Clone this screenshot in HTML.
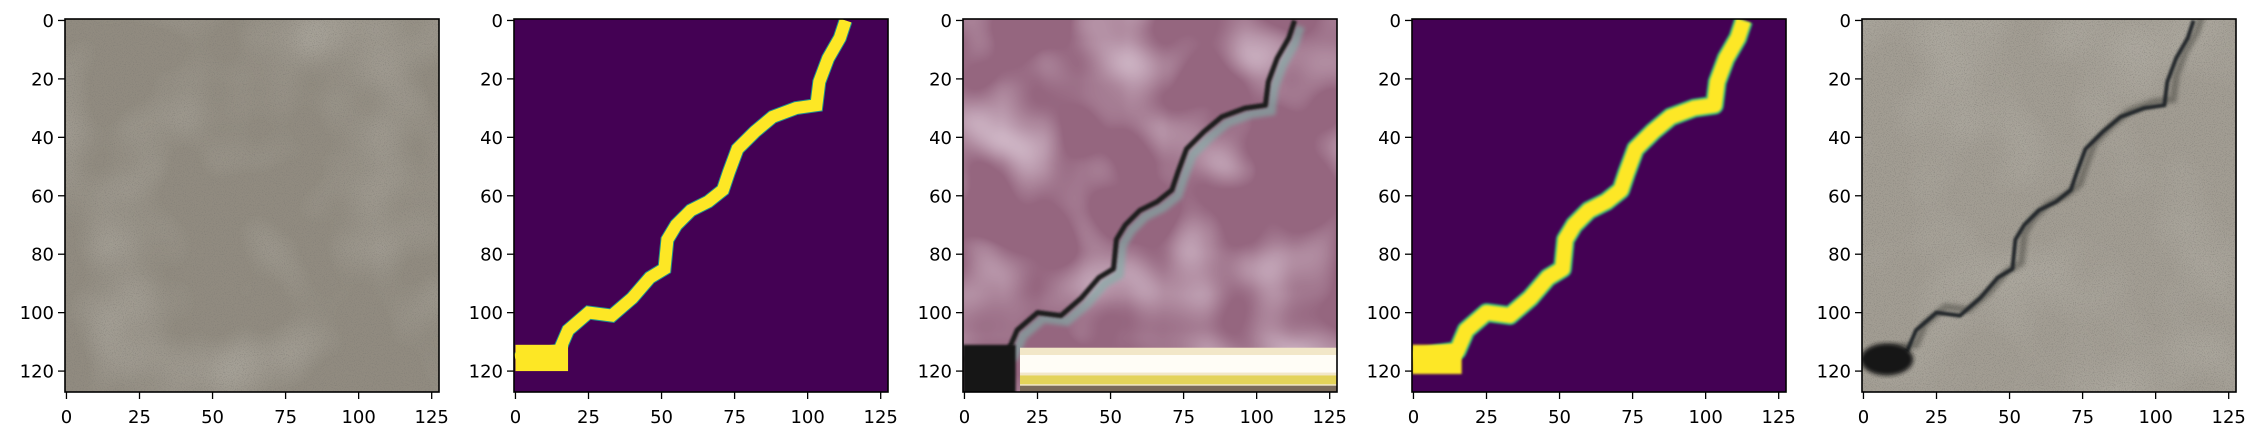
<!DOCTYPE html>
<html><head><meta charset="utf-8"><style>
html,body{margin:0;padding:0;background:#fff;width:2259px;height:440px;overflow:hidden}
svg{display:block}
text{font-family:"DejaVu Sans","Liberation Sans",sans-serif;font-size:18px;fill:#000}
</style></head><body>
<svg id="fig" width="2259" height="440" viewBox="0 0 2259 440" xmlns="http://www.w3.org/2000/svg">
<defs>
<filter id="noiseGrey" x="0" y="0" width="100%" height="100%">
<feTurbulence type="fractalNoise" baseFrequency="0.9" numOctaves="2" seed="3" result="n"/>
<feColorMatrix type="matrix" values="0 0 0 0 0.2  0 0 0 0 0.19  0 0 0 0 0.17  0 0 0 -2.2 1.1" in="n" result="dots"/>
<feComposite in="dots" in2="SourceGraphic" operator="in"/>
</filter>
<filter id="blotch" x="0" y="0" width="100%" height="100%">
<feTurbulence type="fractalNoise" baseFrequency="0.012" numOctaves="2" seed="7"/>
<feColorMatrix type="matrix" values="0 0 0 0 0.45  0 0 0 0 0.43  0 0 0 0 0.38  0 0 0 -1.4 0.8"/>
<feComposite in2="SourceGraphic" operator="in"/>
</filter>
<filter id="noisePink" x="0" y="0" width="100%" height="100%">
<feTurbulence type="fractalNoise" baseFrequency="0.012" numOctaves="2" seed="11"/>
<feColorMatrix type="matrix" values="0 0 0 0 0.92  0 0 0 0 0.84  0 0 0 0 0.92  0 0 0 -1.6 0.9"/>
<feComposite in2="SourceGraphic" operator="in"/>
</filter>
<filter id="soft"><feGaussianBlur stdDeviation="2"/></filter>
<filter id="soft1"><feGaussianBlur stdDeviation="1"/></filter>
</defs>
</svg>
<script>
// crack centerline (image coordinates)
const crackX = [0, 8, 15, 18, 25, 33, 40, 46, 51, 52, 55, 60, 66, 71, 73, 76, 82, 88, 96, 103, 104, 107, 111, 113];
const crackY = [116, 114, 113, 106, 100, 101, 95, 88, 85, 75, 70, 65, 62, 58, 52, 44, 38, 33, 30, 29, 21, 13, 6, 0];
const tickVals = [0, 20, 40, 60, 80, 100, 120];
const xTickVals = [0, 25, 50, 75, 100, 125];
const panelLefts = [65, 514, 963, 1412, 1862];
const NS = "http://www.w3.org/2000/svg";
const svg = document.getElementById('fig');
const W = 374, TOP = 19, S = W / 128;
function mk(tag, attrs, parent) {
  const e = document.createElementNS(NS, tag);
  for (const k in attrs) e.setAttribute(k, attrs[k]);
  (parent || svg).appendChild(e);
  return e;
}
function path(L, dx, dy) {
  return crackX.map((x, i) => (i ? 'L' : 'M') + (L + (x + 0.5 + (dx||0)) * S).toFixed(1) + ',' + (TOP + (crackY[i] + 0.5 + (dy||0)) * S).toFixed(1)).join(' ');
}
function px(L, x) { return L + (x + 0.5) * S; }
function py(y) { return TOP + (y + 0.5) * S; }

panelLefts.forEach((L, p) => {
  const g = mk('g', {});
  
  
  const clipId = 'c' + p;
  const cp = mk('clipPath', {id: clipId}, g);
  mk('rect', {x: L, y: TOP, width: W, height: W - 1}, cp);
  const img = mk('g', {'clip-path': 'url(#' + clipId + ')'}, g);
  
  
  const H = W - 1;
  if (p === 0 || p === 4) {
    mk('rect', {x: L, y: TOP, width: W, height: H, fill: p === 0 ? '#918b80' : '#a29d93'}, img);
    mk('rect', {x: L, y: TOP, width: W, height: H, fill: '#fff', filter: 'url(#blotch)'}, img);
    mk('rect', {x: L, y: TOP, width: W, height: H, fill: '#fff', filter: 'url(#noiseGrey)', opacity: 0.8}, img);
    if (p === 4) {
      mk('path', {d: path(L, 3, -2), fill: 'none', stroke: '#3a3a36', 'stroke-width': 7, opacity: 0.45, filter: 'url(#soft)'}, img);
      mk('path', {d: path(L), fill: 'none', stroke: '#23282a', 'stroke-width': 4, 'stroke-linejoin': 'round', filter: 'url(#soft1)'}, img);
      mk('ellipse', {cx: px(L, 8), cy: py(116), rx: 9 * S, ry: 5.5 * S, fill: '#161714', filter: 'url(#soft)'}, img);
    }
  } else if (p === 2) {
    mk('rect', {x: L, y: TOP, width: W, height: H, fill: '#95667f'}, img);
    mk('rect', {x: L, y: TOP, width: W, height: H, fill: '#fff', filter: 'url(#noisePink)'}, img);
    mk('path', {d: path(L, 2, 2), fill: 'none', stroke: '#7fb0a8', 'stroke-width': 9, opacity: 0.6, filter: 'url(#soft)'}, img);
    mk('path', {d: path(L), fill: 'none', stroke: '#1b1d1a', 'stroke-width': 5, 'stroke-linejoin': 'round', filter: 'url(#soft1)'}, img);
    mk('rect', {x: L, y: py(111), width: 18 * S, height: 17 * S, fill: '#141612', filter: 'url(#soft1)'}, img);
    mk('rect', {x: px(L, 19), y: py(112), width: 110 * S, height: 16 * S, fill: '#f2e7c8'}, img);
    mk('rect', {x: px(L, 19), y: py(114.5), width: 110 * S, height: 6 * S, fill: '#fffdf6'}, img);
    mk('rect', {x: px(L, 19), y: py(121.5), width: 110 * S, height: 3 * S, fill: '#e3d35a'}, img);
    mk('rect', {x: px(L, 19), y: py(125), width: 110 * S, height: 3 * S, fill: '#7a6a5a'}, img);
  } else {
    mk('rect', {x: L, y: TOP, width: W, height: H, fill: '#440154'}, img);
    if (p === 1) {
      mk('path', {d: path(L), fill: 'none', stroke: '#21918c', 'stroke-width': 14, 'stroke-linejoin': 'miter'}, img);
      mk('path', {d: path(L), fill: 'none', stroke: '#fde725', 'stroke-width': 12, 'stroke-linejoin': 'miter'}, img);
      mk('rect', {x: px(L, 0), y: py(111), width: 18 * S, height: 9 * S, fill: '#fde725'}, img);
    } else {
      mk('path', {d: path(L), fill: 'none', stroke: '#35b779', 'stroke-width': 19, 'stroke-linejoin': 'round', filter: 'url(#soft1)'}, img);
      mk('path', {d: path(L), fill: 'none', stroke: '#fde725', 'stroke-width': 15, 'stroke-linejoin': 'round', filter: 'url(#soft1)'}, img);
      mk('rect', {x: L, y: py(111), width: 17 * S, height: 10 * S, fill: '#fde725', filter: 'url(#soft1)'}, img);
    }
  }
  // frame
  const fr = mk('rect', {x: L, y: TOP, width: W, height: H, fill: 'none', stroke: '#000', 'stroke-width': 1.6}, g);
  
  
  tickVals.forEach(v => {
    const y = py(v);
    mk('line', {x1: L - 7, x2: L, y1: y, y2: y, stroke: '#000', 'stroke-width': 1.3}, g);
    const t = mk('text', {x: L - 11, y: y + 6.5, 'text-anchor': 'end'}, g);
    
    
    t.textContent = v;
  });
  xTickVals.forEach(v => {
    const x = px(L, v);
    mk('line', {x1: x, x2: x, y1: TOP + H, y2: TOP + H + 7, stroke: '#000', 'stroke-width': 1.3}, g);
    const t = mk('text', {x: x, y: 423, 'text-anchor': 'middle'}, g);
    
    
    t.textContent = v;
  });
});
</script>
</body></html>
